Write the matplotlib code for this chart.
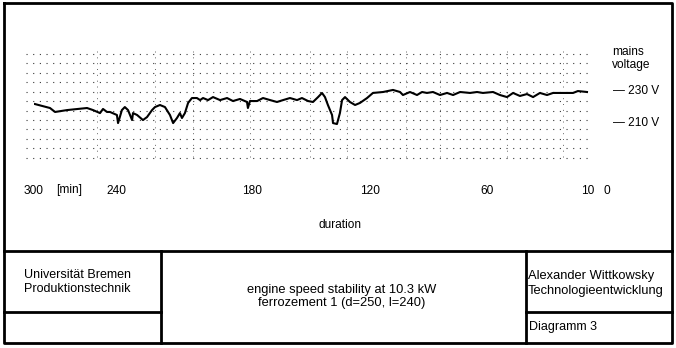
import matplotlib
matplotlib.use('Agg')
import matplotlib.pyplot as plt
import numpy as np

plt.rcParams['font.family'] = ['Liberation Sans', 'DejaVu Sans']

duration = [299.3, 288.3, 284.6, 275.8, 261.2, 256.8, 251.7, 249.5, 246.6, 244.4,
            239.6, 239.1, 237.4, 236.1, 234.7, 232.9, 232.5, 230.7, 228.1, 226.3,
            224.1, 222.8, 220.6, 218.4, 216.2, 214.8, 213.1, 211.8, 210.9, 209.6,
            208.2, 206.5, 204.3, 202.9, 201.6, 199.4, 197.2, 194.1, 191.0, 188.4,
            185.3, 182.2, 181.8, 180.9, 177.4, 174.4, 170.8, 167.3, 164.2, 160.7,
            157.1, 154.6, 151.5, 149.0, 146.4, 144.4, 142.9, 141.4, 139.3, 138.8,
            136.8, 135.3, 134.2, 132.7, 130.2, 127.6, 125.1, 121.5, 118.5, 113.3,
            108.2, 104.6, 103.1, 99.5, 95.9, 93.3, 90.8, 87.7, 84.1, 80.5,
            77.4, 73.8, 68.7, 65.1, 62.1, 57.0, 53.6, 50.1, 47.1, 43.7,
            40.2, 37.2, 33.8, 30.3, 27.3, 22.4, 17.4, 15.0, 10.5]
voltage = [220.7, 218.2, 215.7, 216.9, 218.2, 216.9, 215.0, 217.6, 215.7, 215.7,
           213.8, 208.7, 216.9, 218.8, 216.9, 210.6, 215.0, 213.8, 210.6, 212.5,
           216.9, 218.8, 220.1, 218.8, 213.8, 208.7, 211.9, 215.0, 211.9, 215.0,
           221.4, 224.5, 224.5, 223.2, 224.5, 223.2, 225.1, 223.2, 224.5, 222.6,
           223.9, 222.0, 218.2, 222.6, 222.6, 224.5, 223.2, 222.0, 223.2, 224.5,
           223.2, 224.5, 222.6, 222.0, 225.1, 227.7, 225.1, 220.1, 213.8, 208.7,
           208.1, 215.0, 223.2, 225.1, 222.0, 220.1, 221.4, 224.5, 227.7, 228.3,
           229.6, 228.3, 226.4, 228.3, 226.4, 228.3, 227.7, 228.3, 226.4, 227.7,
           226.4, 228.3, 227.7, 228.3, 227.7, 228.3, 226.4, 225.1, 227.7, 225.8,
           227.0, 225.1, 227.7, 226.4, 227.7, 227.7, 227.7, 228.9, 228.3]

xticks = [300, 240, 180, 120, 60, 10, 0]
yticks = [230, 210]
ytick_labels = ['\u2014 230 V', '\u2014 210 V']

# the strip's time axis is not evenly spaced; knots of the printed scale
scale_t = [-20, 0, 10, 60, 120, 180, 240, 300, 320]
scale_d = [-38, 0, 19, 120, 237, 355, 491, 573, 600]


def fwd(t):
    return np.interp(t, scale_t, scale_d)


def inv(d):
    return np.interp(d, scale_d, scale_t)


W, H = 676, 348
fig = plt.figure(figsize=(W / 100, H / 100), dpi=100)

# background axes in pixel units for frame and title block
bg = fig.add_axes([0, 0, 1, 1])
bg.set_xlim(0, W)
bg.set_ylim(H, 0)
bg.axis('off')

lw = 2.0
bg.plot([4, 672, 672, 4, 4], [3, 3, 343, 343, 3], color='black', lw=lw)
bg.plot([4, 672], [251, 251], color='black', lw=lw)
bg.plot([161, 161], [251, 343], color='black', lw=lw)
bg.plot([526, 526], [251, 343], color='black', lw=lw)
bg.plot([4, 161], [312, 312], color='black', lw=lw)
bg.plot([526, 672], [312, 312], color='black', lw=lw)

fs = 8.6
bg.text(24, 275, 'Universität Bremen', fontsize=9.0, va='center', ha='left')
bg.text(24, 289, 'Produktionstechnik', fontsize=9.0, va='center', ha='left')
bg.text(342, 290, 'engine speed stability at 10.3 kW', fontsize=9.3, va='center', ha='center')
bg.text(342, 303, 'ferrozement 1 (d=250, l=240)', fontsize=9.3, va='center', ha='center')
bg.text(528, 276, 'Alexander Wittkowsky', fontsize=9.3, va='center', ha='left')
bg.text(528, 291, 'Technologieentwicklung', fontsize=9.3, va='center', ha='left')
bg.text(529, 327, 'Diagramm 3', fontsize=9.0, va='center', ha='left')
bg.text(69, 190, '[min]', fontsize=fs, va='center', ha='center')
bg.text(340, 225, 'duration', fontsize=fs, va='center', ha='center')
bg.text(612, 52, 'mains', fontsize=fs, va='center', ha='left')
bg.text(612, 65, 'voltage', fontsize=fs, va='center', ha='left')

# data axes: x from 34 px (300 min) to 607 px (0 min), y from 40 px to 170 px
ax = fig.add_axes([34 / W, (H - 170) / H, 573 / W, 130 / H])
ax.patch.set_alpha(0)
ax.set_xscale('function', functions=(fwd, inv))
ax.set_xlim(300, 0)
ax.set_ylim(179.1, 261.1)
for s in ax.spines.values():
    s.set_visible(False)

# dotted chart-paper rows
for v in np.arange(252.3, 185.0, -5.95):
    ax.plot([306, 8], [v, v], color='#3a3a3a', lw=0.8,
            linestyle=(0, (1.0, 5.0)), clip_on=False)
# faint vertical rulings
for t in [253.9, 222.8, 206.0, 180.9, 150.5, 131.7, 101.5, 84.1, 50.1, 22.4]:
    ax.plot([t, t], [187, 254], color='black', lw=0.7,
            linestyle=(0, (1.0, 5.0)), alpha=0.6)

ax.plot(duration, voltage, color='black', lw=1.5)

ax.set_xticks(xticks)
ax.set_xticklabels([str(t) for t in xticks], fontsize=fs)
ax.xaxis.set_minor_locator(matplotlib.ticker.NullLocator())
ax.tick_params(axis='x', length=0, pad=11)

ax.yaxis.tick_right()
ax.set_yticks(yticks)
ax.set_yticklabels(ytick_labels, fontsize=fs)
ax.tick_params(axis='y', length=0, pad=4)

fig.savefig('out.png', dpi=100)
